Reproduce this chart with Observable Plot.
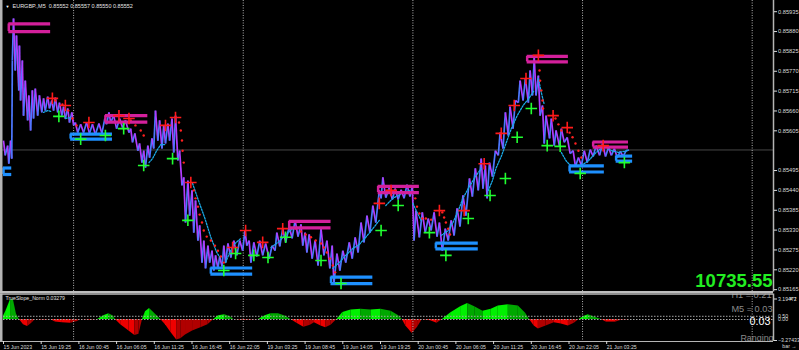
<!DOCTYPE html>
<html><head><meta charset="utf-8">
<script src="https://cdn.jsdelivr.net/npm/d3@7"></script>
<script src="https://cdn.jsdelivr.net/npm/@observablehq/plot@0.6"></script>
<style>
html,body{margin:0;padding:0;background:#000;}
#chart{width:799px;height:350px;overflow:hidden;background:#000;}
#chart svg{display:block;}
</style></head><body><div id="chart"></div>
<script>
// ---------- DATA ----------
const symbolName = "EURGBP.,M5";
const ohlcText = "0.85552 0.85557 0.85550 0.85552";
const lastPrice = 0.85552;
const indicatorName = "TrueSlope_Norm 0.03279";
const balanceText = "10735.55";
const statusLines = ["H1 = 0.21", "M5 = 0.03", "0.03", "Ranging"];

const priceTicks = [0.85935,0.85880,0.85825,0.85770,0.85715,0.85660,0.85605,0.85495,0.85440,0.85385,0.85330,0.85275,0.85220,0.85165];
const slopeTicks = [3.19472, -3.27433];
const slopeLevels = [0.5, 0];

const timeLabels = ["15 Jun 2023","15 Jun 19:25","16 Jun 00:45","16 Jun 06:05","16 Jun 11:25","16 Jun 16:45","16 Jun 22:05","19 Jun 03:25","19 Jun 08:45","19 Jun 14:05","19 Jun 19:25","20 Jun 00:45","20 Jun 06:05","20 Jun 11:25","20 Jun 16:45","20 Jun 22:05","21 Jun 03:25"];
const barsPerLabel = 64;               // 5h20m of M5 bars
const daySeparatorBars = [119, 407, 695, 983, 1271];

// price path: [bar index, price]
const pricePath = [[0,.85578],[3,.85537],[7,.85564],[9,.85514],[12,.85578],[14,.85528],[15,.85800],[17,.85916],[20,.85772],[22,.85869],[26,.85717],[27,.85841],[29,.85689],[32,.85800],[34,.85647],[37,.85744],[41,.85634],[43,.85703],[46,.85606],[49,.85717],[51,.85639],[54,.85722],[58,.85647],[61,.85703],[65,.85656],[68,.85695],[71,.85661],[75,.85700],[78,.85667],[82,.85689],[85,.85661],[88,.85697],[92,.85656],[95,.85683],[99,.85647],[102,.85672],[105,.85639],[109,.85667],[112,.85628],[116,.85656],[119,.85620],[122,.85628],[126,.85600],[131,.85623],[136,.85600],[141,.85628],[146,.85598],[151,.85623],[156,.85595],[162,.85625],[167,.85598],[172,.85639],[175,.85623],[179,.85656],[182,.85628],[187,.85647],[192,.85611],[197,.85639],[202,.85614],[207,.85634],[213,.85600],[216,.85611],[219,.85573],[223,.85598],[228,.85550],[231,.85570],[235,.85517],[238,.85550],[241,.85503],[245,.85564],[248,.85531],[252,.85584],[255,.85556],[258,.85661],[262,.85578],[265,.85634],[269,.85556],[272,.85620],[275,.85570],[279,.85625],[282,.85578],[286,.85639],[289,.85545],[292,.85647],[296,.85523],[299,.85550],[303,.85454],[306,.85476],[309,.85351],[313,.85467],[316,.85370],[320,.85440],[323,.85323],[326,.85412],[330,.85301],[333,.85343],[337,.85240],[340,.85301],[343,.85224],[347,.85287],[350,.85240],[354,.85273],[357,.85218],[360,.85260],[364,.85224],[367,.85257],[371,.85229],[374,.85287],[377,.85240],[381,.85293],[386,.85254],[391,.85301],[396,.85260],[401,.85301],[406,.85273],[410,.85329],[413,.85287],[417,.85301],[420,.85240],[425,.85296],[430,.85257],[435,.85301],[440,.85260],[445,.85293],[451,.85251],[456,.85287],[461,.85273],[464,.85323],[469,.85285],[474,.85334],[479,.85296],[485,.85340],[490,.85307],[495,.85357],[500,.85312],[505,.85346],[508,.85287],[512,.85323],[515,.85268],[519,.85318],[524,.85251],[529,.85301],[534,.85232],[539,.85334],[544,.85260],[549,.85301],[554,.85224],[558,.85287],[561,.85182],[566,.85265],[571,.85218],[576,.85273],[581,.85240],[587,.85296],[592,.85251],[597,.85310],[602,.85268],[607,.85351],[612,.85296],[617,.85370],[622,.85323],[627,.85398],[632,.85351],[638,.85440],[641,.85418],[644,.85476],[649,.85420],[655,.85448],[660,.85415],[665,.85445],[670,.85415],[675,.85442],[680,.85418],[685,.85456],[690,.85423],[694,.85451],[697,.85301],[700,.85384],[706,.85310],[711,.85379],[716,.85323],[721,.85362],[726,.85329],[731,.85379],[736,.85312],[740,.85351],[745,.85273],[750,.85334],[755,.85301],[760,.85357],[765,.85315],[770,.85390],[775,.85340],[780,.85426],[785,.85370],[791,.85473],[796,.85423],[801,.85501],[806,.85440],[811,.85528],[814,.85445],[818,.85509],[821,.85418],[825,.85517],[830,.85478],[835,.85550],[840,.85537],[843,.85600],[848,.85556],[852,.85656],[857,.85592],[860,.85672],[865,.85611],[869,.85689],[874,.85683],[877,.85744],[882,.85689],[886,.85750],[891,.85683],[894,.85772],[898,.85703],[901,.85808],[904,.85703],[908,.85758],[911,.85647],[915,.85675],[918,.85570],[921,.85647],[927,.85584],[930,.85639],[935,.85564],[938,.85606],[944,.85562],[947,.85611],[952,.85573],[957,.85587],[962,.85542],[967,.85550],[971,.85506],[976,.85531],[981,.85509],[986,.85550],[991,.85517],[996,.85553],[1001,.85534],[1006,.85564],[1012,.85537],[1017,.85570],[1022,.85534],[1027,.85559],[1032,.85537],[1037,.85556],[1042,.85531],[1047,.85548],[1052,.85534],[1057,.85550],[1062,.85552]];

// supply (magenta) and demand (blue) zones
const resStart = [9, 173, 485, 636, 889, 1001];
const resEnd   = [80, 245, 556, 706, 959, 1061];
const resUpper = [0.85901, 0.85647, 0.85354, 0.85451, 0.85811, 0.85574];
const resLower = [0.85880, 0.85629, 0.85336, 0.85434, 0.85796, 0.85560];
const supStart = [0, 114, 352, 556, 734, 961, 1040];
const supEnd   = [14, 185, 423, 627, 806, 1020, 1068];
const supUpper = [0.85502, 0.85596, 0.85225, 0.85200, 0.85294, 0.85508, 0.85535];
const supLower = [0.85484, 0.85582, 0.85208, 0.85182, 0.85278, 0.85491, 0.85521];

const sellSignals = [[83,.85695],[105,.85675],[145,.85628],[196,.85647],[213,.85639],[275,.85620],[292,.85642],[318,.85462],[389,.85282],[411,.85329],[440,.85296],[474,.85334],[638,.85404],[658,.85440],[740,.85384],[782,.85384],[816,.85514],[845,.85598],[867,.85675],[887,.85750],[908,.85814],[933,.85647],[957,.85614],[1018,.85564]];
const buySignals = [[94,.85645],[131,.85582],[173,.85592],[204,.85611],[238,.85509],[287,.85528],[313,.85357],[374,.85218],[394,.85265],[425,.85260],[449,.85254],[479,.85310],[539,.85246],[573,.85182],[641,.85329],[670,.85398],[723,.85323],[751,.85260],[789,.85362],[826,.85426],[852,.85473],[872,.85587],[896,.85667],[923,.85564],[945,.85562],[979,.85487],[1054,.85517]];

const trailStopDots = [[88,.85689],[100,.85678],[110,.85661],[117,.85639],[124,.85620],[216,.85634],[224,.85620],[233,.85606],[238,.85592],[298,.85628],[301,.85606],[303,.85578],[304,.85550],[306,.85517],[323,.85440],[326,.85418],[330,.85395],[333,.85373],[337,.85351],[340,.85329],[345,.85312],[352,.85301],[359,.85287],[364,.85273],[369,.85257],[374,.85240],[496,.85334],[505,.85326],[513,.85318],[522,.85310],[530,.85301],[539,.85293],[544,.85282],[549,.85268],[554,.85251],[559,.85232],[563,.85213],[699,.85418],[702,.85395],[706,.85376],[711,.85362],[717,.85362],[726,.85359],[745,.85379],[748,.85365],[751,.85351],[755,.85334],[758,.85318],[910,.85772],[911,.85744],[913,.85717],[915,.85689],[916,.85667],[937,.85639],[942,.85623],[947,.85606],[961,.85600],[966,.85587],[971,.85570],[976,.85550],[981,.85531]];

const supportTrail = [
 [[68,.85656],[75,.85661],[80,.85659]],
 [[105,.85639],[114,.85642]],
 [[247,.85517],[253,.85528],[260,.85550],[267,.85567],[275,.85567]],
 [[321,.85459],[331,.85412],[342,.85362],[352,.85310],[362,.85268],[369,.85251]],
 [[377,.85240],[384,.85268],[391,.85290],[403,.85307]],
 [[454,.85282],[466,.85296],[478,.85315],[491,.85334]],
 [[559,.85224],[570,.85240],[581,.85260],[593,.85279],[604,.85290],[616,.85312],[627,.85334],[638,.85357]],
 [[649,.85398],[661,.85418],[675,.85431],[689,.85440]],
 [[695,.85404],[702,.85379],[709,.85357]],
 [[743,.85315],[755,.85329],[763,.85351],[772,.85384],[780,.85418],[791,.85451],[801,.85478],[811,.85501]],
 [[823,.85440],[830,.85467],[836,.85501],[845,.85534],[853,.85570],[862,.85611],[872,.85647],[882,.85675],[892,.85695],[901,.85717]],
 [[908,.85750],[913,.85711],[918,.85678]],
 [[947,.85545],[955,.85522],[964,.85506]],
 [[981,.85509],[993,.85522],[1006,.85545],[1020,.85564],[1032,.85550],[1045,.85545],[1059,.85550]]
];

// TrueSlope_Norm indicator: [bar, value]
const slopeKeys = [[0,0.5],[5,1.5],[12,3.1],[17,3.0],[22,0.8],[27,0],[34,-0.8],[41,-1.1],[48,-0.6],[54,0],[71,-0.1],[80,0],[88,-0.4],[100,-0.5],[114,-0.6],[126,-0.3],[131,0],[148,-0.1],[160,0],[170,0.6],[179,0.9],[187,0.5],[190,0],[199,-0.8],[213,-1.8],[223,-2.5],[230,-2.3],[236,0],[241,1.2],[248,1.7],[258,0.8],[267,0],[275,-0.8],[284,-2.0],[294,-3.2],[301,-3.0],[309,-2.4],[321,-1.8],[335,-1.3],[347,-0.8],[357,0],[365,0.6],[376,0.75],[386,0.4],[391,0],[411,-0.15],[433,0],[444,0.6],[454,0.9],[467,0.9],[479,0.5],[488,0],[498,-0.6],[510,-1.2],[521,-0.9],[528,-0.5],[539,-1.0],[547,-1.3],[556,-0.9],[566,0],[576,1.1],[590,1.5],[607,1.6],[624,1.5],[641,1.6],[658,1.3],[671,0.6],[677,0],[683,-1.0],[694,-2.2],[703,-1.2],[711,0],[725,-0.2],[736,-0.6],[745,0],[759,1.0],[776,2.0],[788,2.5],[800,2.0],[814,1.3],[828,1.6],[840,2.1],[857,2.3],[874,2.1],[886,1.0],[893,0],[901,-1.0],[908,-1.5],[921,-1.0],[935,-0.5],[947,-0.7],[959,-1.0],[969,-0.6],[977,0],[986,0.5],[993,0.75],[1005,0.3],[1015,0],[1023,-0.4],[1040,-0.4],[1049,-0.1],[1062,-0.05]];

// ---------- LAYOUT ----------
const W = 799, MR = 26, PLOT_W = W - MR;
const firstBarPx = 3, pxPerBar = 37.7 / barsPerLabel;
const xDomain = [-firstBarPx / pxPerBar, (PLOT_W - firstBarPx) / pxPerBar];
const priceTop = 0.85966, pricePerPx = 0.0000277, mainBottom = 291.5;
const yDomain = [priceTop - pricePerPx * mainBottom, priceTop];
const FONT = "Liberation Sans, Arial, sans-serif";
const AX = "#dcdcdc", BORDER = "#b4b4b4", SEP = "#bdbdbd";

const segs = d3.pairs(pricePath).map(([a, b]) => ({x1: a[0], y1: a[1], x2: b[0], y2: b[1], c: b[1] >= a[1] ? "#4d78ff" : "#b23cff"}));
const resRows = resStart.map((s, i) => ({s, e: resEnd[i], u: resUpper[i], l: resLower[i]}));
const supRows = supStart.map((s, i) => ({s, e: supEnd[i], u: supUpper[i], l: supLower[i]}));
const cyanRows = supportTrail.flatMap((seg, k) => seg.map(p => ({b: p[0], p: p[1], k})));
const RES = "#d4209c", SUP = "#1e90ff";

const main = Plot.plot({
  width: W, height: 293, marginLeft: 0, marginRight: MR, marginTop: 0, marginBottom: 293 - mainBottom,
  x: {domain: xDomain, axis: null},
  y: {domain: yDomain, axis: null},
  color: {type: "identity"},
  style: {background: "#000", color: AX, fontFamily: FONT},
  marks: [
    Plot.ruleY([lastPrice], {stroke: "#474747", strokeWidth: 1}),
    Plot.ruleX(daySeparatorBars, {stroke: "#b0b0b0", strokeDasharray: "1,1.5", strokeWidth: 1}),
    Plot.link(segs, {x1: "x1", y1: "y1", x2: "x2", y2: "y2", stroke: "c", strokeWidth: 1.7}),
    Plot.line(cyanRows, {x: "b", y: "p", z: "k", stroke: "#19a9e6", strokeWidth: 1.3, strokeDasharray: "1.6,1.4"}),
    Plot.dot(trailStopDots, {x: d => d[0], y: d => d[1], r: 1.2, fill: "#ff2020", stroke: null}),
    Plot.ruleY(resRows, {y: "u", x1: "s", x2: "e", stroke: RES, strokeWidth: 3.2}),
    Plot.ruleY(resRows, {y: "l", x1: "s", x2: "e", stroke: RES, strokeWidth: 3.2}),
    Plot.ruleX(resRows, {x: "s", y1: "l", y2: "u", stroke: RES, strokeWidth: 2.5}),
    Plot.ruleY(supRows, {y: "u", x1: "s", x2: "e", stroke: SUP, strokeWidth: 3.2}),
    Plot.ruleY(supRows, {y: "l", x1: "s", x2: "e", stroke: SUP, strokeWidth: 3.2}),
    Plot.ruleX(supRows, {x: "s", y1: "l", y2: "u", stroke: SUP, strokeWidth: 2.5}),
    Plot.dot(sellSignals, {x: d => d[0], y: d => d[1], symbol: "plus", r: 3.8, stroke: "#ff1a1a", strokeWidth: 1.6}),
    Plot.dot(buySignals, {x: d => d[0], y: d => d[1], symbol: "plus", r: 3.8, stroke: "#20ff30", strokeWidth: 1.6}),
    Plot.ruleX([xDomain[0]], {stroke: BORDER, strokeWidth: 4}),
    Plot.ruleX([xDomain[1]], {stroke: BORDER, strokeWidth: 1.5}),
    Plot.ruleY([yDomain[0]], {stroke: SEP, strokeWidth: 2.2}),
    Plot.axisY(priceTicks, {anchor: "right", tickSize: 3, tickPadding: 1.5, tickFormat: d3.format(".5f"), fontSize: 5.7, color: AX}),
    Plot.text([lastPrice], {y: d => d, frameAnchor: "right", dx: 5, textAnchor: "start", text: d => d3.format(".5f")(d), fill: "#000", fontSize: 5.7}),
    Plot.text(["\u25BC"], {frameAnchor: "top-left", dx: 5, dy: 6, text: d => d, fill: "#fff", fontSize: 4, lineAnchor: "middle"}),
    Plot.text([symbolName + "  " + ohlcText], {frameAnchor: "top-left", dx: 12, dy: 6, text: d => d, fill: "#e6e6e6", fontSize: 5.5, lineAnchor: "middle", textAnchor: "start"}),
    Plot.text([balanceText], {frameAnchor: "bottom-right", dx: -1, dy: -11, text: d => d, fill: "#22ee22", fontSize: 18.5, fontWeight: "bold", lineAnchor: "middle", textAnchor: "end"})
  ]
});

// indicator
const slopeSegs = [];
d3.pairs(slopeKeys).forEach(([a, b], i) => {
  const pos = (a[1] + b[1]) / 2 >= 0, rising = b[1] > a[1];
  const fill = pos ? (rising ? "#00f000" : "#00a800") : (rising ? "#b00000" : "#ee0000");
  slopeSegs.push({bar: a[0], v: a[1], z: i, fill}, {bar: b[0], v: b[1], z: i, fill});
});
const tickBars = timeLabels.map((_, i) => i * barsPerLabel);
const labelOf = new Map(tickBars.map((b, i) => [b, timeLabels[i]]));
const indTop = 0.5, indBottomPx = 48;
const zeroPx = 319 - 293, pxPerUnit = 6.415;
const sDomain = [-(indBottomPx - zeroPx) / pxPerUnit, (zeroPx - indTop) / pxPerUnit];
const statusStyle = [
  {dx: -2, dy: 1.5, fill: "#8a8a8a", size: 9.2},
  {dx: -1, dy: 15.5, fill: "#8a8a8a", size: 9.2},
  {dx: -3, dy: 28, fill: "#ffffff", size: 10.8},
  {dx: 0, dy: 44, fill: "#8a8a8a", size: 8.9}
];

const ind = Plot.plot({
  width: W, height: 57, marginLeft: 0, marginRight: MR, marginTop: indTop, marginBottom: 57 - indBottomPx,
  x: {domain: xDomain, axis: null},
  y: {domain: sDomain, axis: null},
  color: {type: "identity"},
  style: {background: "#000", color: AX, fontFamily: FONT},
  marks: [
    Plot.area(slopeSegs, {x1: "bar", y1: () => 0, y2: "v", z: "z", fill: "fill"}),
    Plot.ruleY(slopeLevels, {stroke: "#a8a8a8", strokeDasharray: "1.5,1.5"}),
    Plot.ruleX(daySeparatorBars, {stroke: "#b0b0b0", strokeDasharray: "1,1.5", strokeWidth: 1}),
    Plot.text([indicatorName], {frameAnchor: "top-left", dx: 5, dy: 4.5, text: d => d, fill: "#e0e0e0", fontSize: 5.2, lineAnchor: "middle", textAnchor: "start"}),
    ...statusLines.map((s, i) => Plot.text([s], {frameAnchor: "top-right", dx: statusStyle[i].dx, dy: statusStyle[i].dy, text: d => d,
      fill: statusStyle[i].fill, fontSize: statusStyle[i].size, lineAnchor: "middle", textAnchor: "end", clip: true})),
    Plot.ruleX([xDomain[0]], {stroke: BORDER, strokeWidth: 4}),
    Plot.ruleX([xDomain[1]], {stroke: BORDER, strokeWidth: 1.5}),
    Plot.ruleY([sDomain[1]], {stroke: SEP, strokeWidth: 1.5}),
    Plot.ruleY([sDomain[0]], {stroke: BORDER, strokeWidth: 1}),
    Plot.axisY(slopeTicks, {anchor: "right", tickSize: 3, tickPadding: 1.5, tickFormat: d3.format(".5f"), fontSize: 5.2, color: AX}),
    Plot.axisY(slopeLevels, {anchor: "right", tickSize: 0, tickPadding: 4.5, tickFormat: d3.format(".2f"), fontSize: 5.2, color: AX}),
    Plot.axisX(tickBars, {anchor: "bottom", tickSize: 3, tickPadding: 1, tickFormat: d => labelOf.get(d), textAnchor: "start", fontSize: 5.2, color: AX})
  ]
});

const host = document.getElementById("chart");
host.append(main, ind);

// white box behind current price label
d3.select(main).selectAll("text").filter(function() { return this.textContent === d3.format(".5f")(lastPrice) && this.getAttribute("fill") === "#000"; })
  .each(function() {
    const bb = this.getBBox();
    const g = this.closest("g") || this.parentNode;
    const r = document.createElementNS("http://www.w3.org/2000/svg", "rect");
    r.setAttribute("x", PLOT_W + 1.5); r.setAttribute("y", bb.y - 0.2);
    r.setAttribute("width", W - PLOT_W - 1.5); r.setAttribute("height", bb.height + 0.4);
    r.setAttribute("fill", "#fff");
    main.insertBefore(r, g);
  });
</script>
</body></html>
